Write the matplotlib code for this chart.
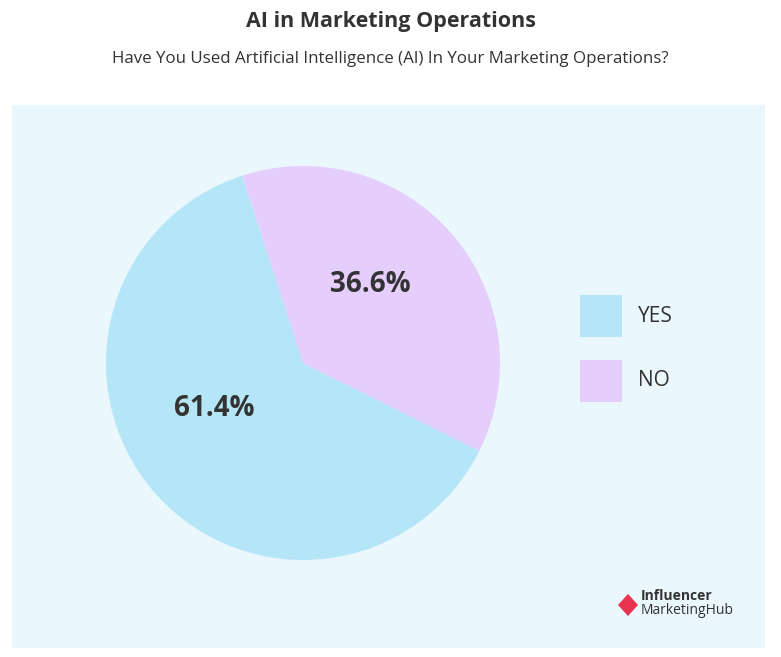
import matplotlib.pyplot as plt
from matplotlib.patches import Rectangle, Polygon

plt.rcParams['font.family'] = ['Open Sans', 'DejaVu Sans']

labels = ["YES", "NO"]
values = [61.4, 36.6]
colors = ["#b5e6f8", "#e5cdfc"]

fig = plt.figure(figsize=(7.81, 6.57), dpi=100)
fig.patch.set_facecolor("white")

# panel background
fig.patches.append(Rectangle((12 / 781, 1 - 648 / 657), 753 / 781, 543 / 657,
                             transform=fig.transFigure, facecolor="#eaf7fd",
                             edgecolor="none", zorder=-5))

fig.text(0.5, 1 - 22 / 657, "AI in Marketing Operations", ha="center", va="center",
         fontsize=15.5, fontweight="bold", color="#333333")
fig.text(0.5, 1 - 59 / 657, "Have You Used Artificial Intelligence (AI) In Your Marketing Operations?",
         ha="center", va="center", fontsize=12.2, color="#333333")

# pie axes: center (303,363), radius 197
r = 197
ax = fig.add_axes([(303 - r) / 781, 1 - (363 + r) / 657, 2 * r / 781, 2 * r / 657])
ax.set_zorder(5)
ax.patch.set_alpha(0)
wedges, _ = ax.pie(values, colors=colors, startangle=108, radius=1,
                   wedgeprops=dict(edgecolor="none"))
ax.set_xlim(-1, 1)
ax.set_ylim(-1, 1)
ax.set_aspect("auto")
ax.axis("off")

ax.text(-0.45, -0.23, f"{values[0]}%", ha="center", va="center",
        fontsize=20, fontweight="bold", color="#333333")
ax.text(0.34, 0.4, f"{values[1]}%", ha="center", va="center",
        fontsize=20, fontweight="bold", color="#333333")

# legend
for i, (lab, c) in enumerate(zip(labels, colors)):
    y = 316 + i * 65
    fig.patches.append(Rectangle((580 / 781, 1 - (y + 21) / 657), 42 / 781, 42 / 657,
                                 transform=fig.transFigure, facecolor=c, edgecolor="none"))
    fig.text(638 / 781, 1 - y / 657, lab, ha="left", va="center", fontsize=15, color="#333333")

# logo
fig.patches.append(Polygon([(618 / 781, 1 - 605 / 657), (628 / 781, 1 - 594 / 657),
                            (638 / 781, 1 - 605 / 657), (628 / 781, 1 - 616 / 657)],
                           transform=fig.transFigure, facecolor="#e8344e", edgecolor="none"))
fig.text(641 / 781, 1 - 596 / 657, "Influencer", ha="left", va="center",
         fontsize=10, fontweight="bold", color="#333333")
fig.text(641 / 781, 1 - 610 / 657, "MarketingHub", ha="left", va="center",
         fontsize=10, color="#333333")

fig.savefig("out.png", dpi=100)
